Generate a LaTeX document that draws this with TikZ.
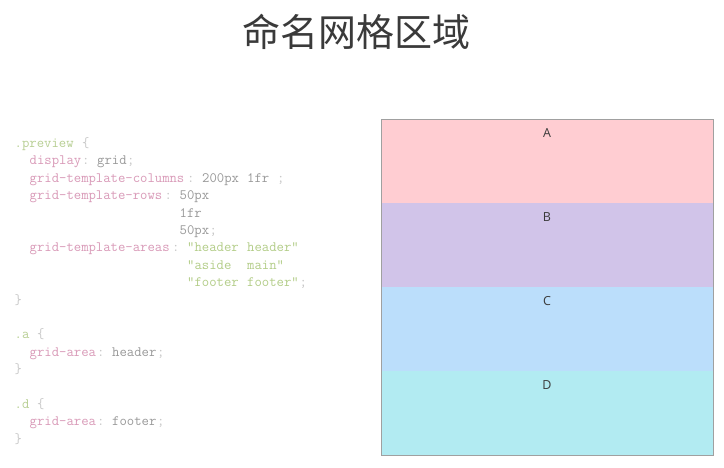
\documentclass[tikz,border=0pt]{standalone}
\usepackage{fontspec}
\setsansfont{Open Sans}
\newfontfamily\cjkfont{Noto Sans CJK SC}
\definecolor{selc}{HTML}{B8CF94}
\definecolor{propc}{HTML}{D99AB8}
\definecolor{valc}{HTML}{999999}
\definecolor{punc}{HTML}{C8C8C8}
\definecolor{strc}{HTML}{B3CD88}
\definecolor{titlec}{HTML}{3A3A3A}
\definecolor{ca}{HTML}{FFCDD2}
\definecolor{cb}{HTML}{D1C4E9}
\definecolor{cc}{HTML}{BBDEFB}
\definecolor{cd}{HTML}{B2EBF2}
\definecolor{bordc}{HTML}{A0A0A0}
\newcounter{tokn}
% \tok{col}{line}{colour}{text}
\newcommand{\tok}[4]{\stepcounter{tokn}%
  \node[code,text=#3] (t\arabic{tokn}) at ({14.5+#1*7.5},{147.5+#2*17.4}) {#4};}
\begin{document}
\begin{tikzpicture}[x=1pt,y=-1pt,
  code/.style={anchor=base west,inner sep=0pt,font=\ttfamily\fontsize{14.3}{15}\selectfont},
  area/.style={draw=none,minimum width=332pt,minimum height=84pt,inner sep=0pt,anchor=north west},
  lbl/.style={font=\sffamily\fontsize{12.5}{13}\selectfont,text=titlec,inner sep=0pt}]
\useasboundingbox (0,0) rectangle (724,467);
\fill[white] (0,0) rectangle (724,467);
\node[font=\cjkfont\fontsize{38}{40}\selectfont,text=titlec,inner sep=0pt] (title) at (356,32) {命名网格区域};
% grid areas
\node[area,fill=ca] (A) at (381,119) {};
\node[area,fill=cb] (B) at (381,203) {};
\node[area,fill=cc] (C) at (381,287) {};
\node[area,fill=cd] (D) at (381,371) {};
\draw[bordc,line width=0.8pt] (A.north west) rectangle (D.south east);
\node[lbl] (la) at (547,133) {A};
\node[lbl] (lb) at (547,217) {B};
\node[lbl] (lc) at (547,301) {C};
\node[lbl] (ld) at (547,385) {D};
% code
\tok{0}{0}{selc}{.preview}
\tok{9}{0}{punc}{\{}
\tok{2}{1}{propc}{display}
\tok{9}{1}{punc}{:}
\tok{11}{1}{valc}{grid}
\tok{15}{1}{punc}{;}
\tok{2}{2}{propc}{grid-template-columns}
\tok{23}{2}{punc}{:}
\tok{25}{2}{valc}{200px}
\tok{31}{2}{valc}{1fr}
\tok{35}{2}{punc}{;}
\tok{2}{3}{propc}{grid-template-rows}
\tok{20}{3}{punc}{:}
\tok{22}{3}{valc}{50px}
\tok{22}{4}{valc}{1fr}
\tok{22}{5}{valc}{50px}
\tok{26}{5}{punc}{;}
\tok{2}{6}{propc}{grid-template-areas}
\tok{21}{6}{punc}{:}
\tok{23}{6}{strc}{"header}
\tok{31}{6}{strc}{header"}
\tok{23}{7}{strc}{"aside}
\tok{31}{7}{strc}{main"}
\tok{23}{8}{strc}{"footer}
\tok{31}{8}{strc}{footer"}
\tok{38}{8}{punc}{;}
\tok{0}{9}{punc}{\}}
\tok{0}{11}{selc}{.a}
\tok{3}{11}{punc}{\{}
\tok{2}{12}{propc}{grid-area}
\tok{11}{12}{punc}{:}
\tok{13}{12}{valc}{header}
\tok{19}{12}{punc}{;}
\tok{0}{13}{punc}{\}}
\tok{0}{15}{selc}{.d}
\tok{3}{15}{punc}{\{}
\tok{2}{16}{propc}{grid-area}
\tok{11}{16}{punc}{:}
\tok{13}{16}{valc}{footer}
\tok{19}{16}{punc}{;}
\tok{0}{17}{punc}{\}}
\end{tikzpicture}
\end{document}
